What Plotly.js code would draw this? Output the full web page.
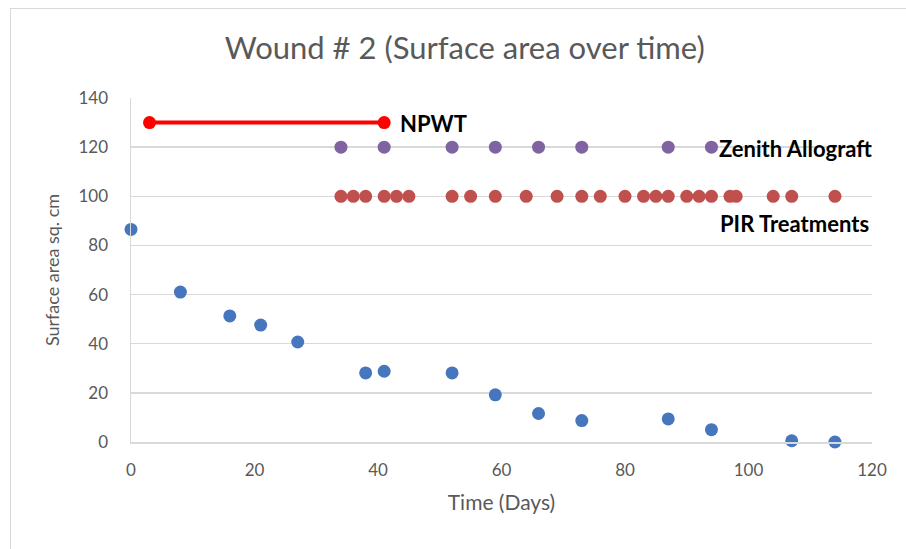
<!DOCTYPE html>
<html>
<head>
<meta charset="utf-8">
<script src="https://cdn.plot.ly/plotly-3.0.1.min.js"></script>
<style>
html,body{margin:0;padding:0;background:#fff;}
#frame{position:absolute;left:10px;top:8px;width:910px;height:560px;border:1px solid #d9d9d9;box-sizing:border-box;}
#chart{position:absolute;left:0;top:0;width:906px;height:549px;}
</style>
</head>
<body>
<div id="frame"></div>
<div id="chart"></div>
<script>
// Wound surface area measurements
var areaDays = [0, 8, 16, 21, 27, 38, 41, 52, 59, 66, 73, 87, 94, 107, 114];
var areaValues = [86.5, 61, 51.3, 47.6, 40.7, 28.1, 28.8, 28.1, 19.2, 11.6, 8.7, 9.4, 5, 0.5, 0];

// NPWT period
var npwtDays = [3, 41];
var npwtLevel = [130, 130];

// Zenith Allograft applications
var zenithDays = [34, 41, 52, 59, 66, 73, 87, 94];
var zenithLevel = [120, 120, 120, 120, 120, 120, 120, 120];

// PIR treatments
var pirDays = [34, 36, 38, 41, 43, 45, 52, 55, 59, 64, 69, 73, 76, 80, 83, 85, 87, 90, 92, 94, 97, 98, 104, 107, 114];
var pirLevel = pirDays.map(function(){ return 100; });

var xTicks = [0, 20, 40, 60, 80, 100, 120];
var yTicks = [0, 20, 40, 60, 80, 100, 120, 140];

var FONT = 'Lato, "Open Sans", sans-serif';
var GREY = '#595959';

var traces = [
  {x: areaDays, y: areaValues, mode: 'markers', type: 'scatter', name: 'Surface area',
   marker: {color: '#4677be', size: 13}, cliponaxis: false},
  {x: npwtDays, y: npwtLevel, mode: 'lines+markers', type: 'scatter', name: 'NPWT',
   line: {color: '#ff0000', width: 4}, marker: {color: '#ff0000', size: 13}, cliponaxis: false},
  {x: zenithDays, y: zenithLevel, mode: 'markers', type: 'scatter', name: 'Zenith Allograft',
   marker: {color: '#8064a2', size: 13}, cliponaxis: false},
  {x: pirDays, y: pirLevel, mode: 'markers', type: 'scatter', name: 'PIR Treatments',
   marker: {color: '#c0504d', size: 13}, cliponaxis: false}
];

var layout = {
  width: 906, height: 549,
  margin: {l: 131, r: 34, t: 98, b: 107},
  paper_bgcolor: 'rgba(0,0,0,0)',
  plot_bgcolor: 'rgba(0,0,0,0)',
  showlegend: false,
  font: {family: FONT, color: GREY},
  title: {text: 'Wound # 2 (Surface area over time)', xref: 'container', x: 0.513, xanchor: 'center',
          yref: 'container', y: 1 - 48/549, yanchor: 'middle',
          font: {family: FONT, size: 31, color: GREY}},
  xaxis: {range: [0, 120], tickvals: xTicks, ticktext: xTicks.map(String), showgrid: false,
          zeroline: false, showline: true, linecolor: '#d9d9d9', linewidth: 1.5, ticks: '',
          ticklabelstandoff: 12, tickfont: {size: 17, color: GREY, family: FONT},
          title: {text: 'Time (Days)', font: {size: 21, color: GREY, family: FONT}, standoff: 16}},
  yaxis: {range: [0, 140], tickvals: yTicks, ticktext: yTicks.map(String), showgrid: true,
          gridcolor: '#d9d9d9', gridwidth: 1.5, zeroline: false, showline: true, linecolor: '#d9d9d9',
          linewidth: 1.5, ticks: '', ticklabelstandoff: 18, tickfont: {size: 17, color: GREY, family: FONT},
          title: {text: 'Surface area sq. cm', font: {size: 18, color: GREY, family: FONT}, standoff: 14}},
  annotations: [
    {x: 41, y: 130, xref: 'x', yref: 'y', text: '<b>NPWT</b>', showarrow: false, xanchor: 'left',
     xshift: 14, yshift: -1, font: {size: 22, color: '#000', family: FONT}},
    {x: 94, y: 120, xref: 'x', yref: 'y', text: '<b>Zenith Allograft</b>', showarrow: false, xanchor: 'left',
     xshift: 6, yshift: -1, font: {size: 22, color: '#000', family: FONT}},
    {x: 114, y: 100, xref: 'x', yref: 'y', text: '<b>PIR Treatments</b>', showarrow: false, xanchor: 'right',
     xshift: 36, yshift: -27, font: {size: 22, color: '#000', family: FONT}}
  ]
};

Plotly.newPlot('chart', traces, layout, {displayModeBar: false, staticPlot: true});
</script>
</body>
</html>
